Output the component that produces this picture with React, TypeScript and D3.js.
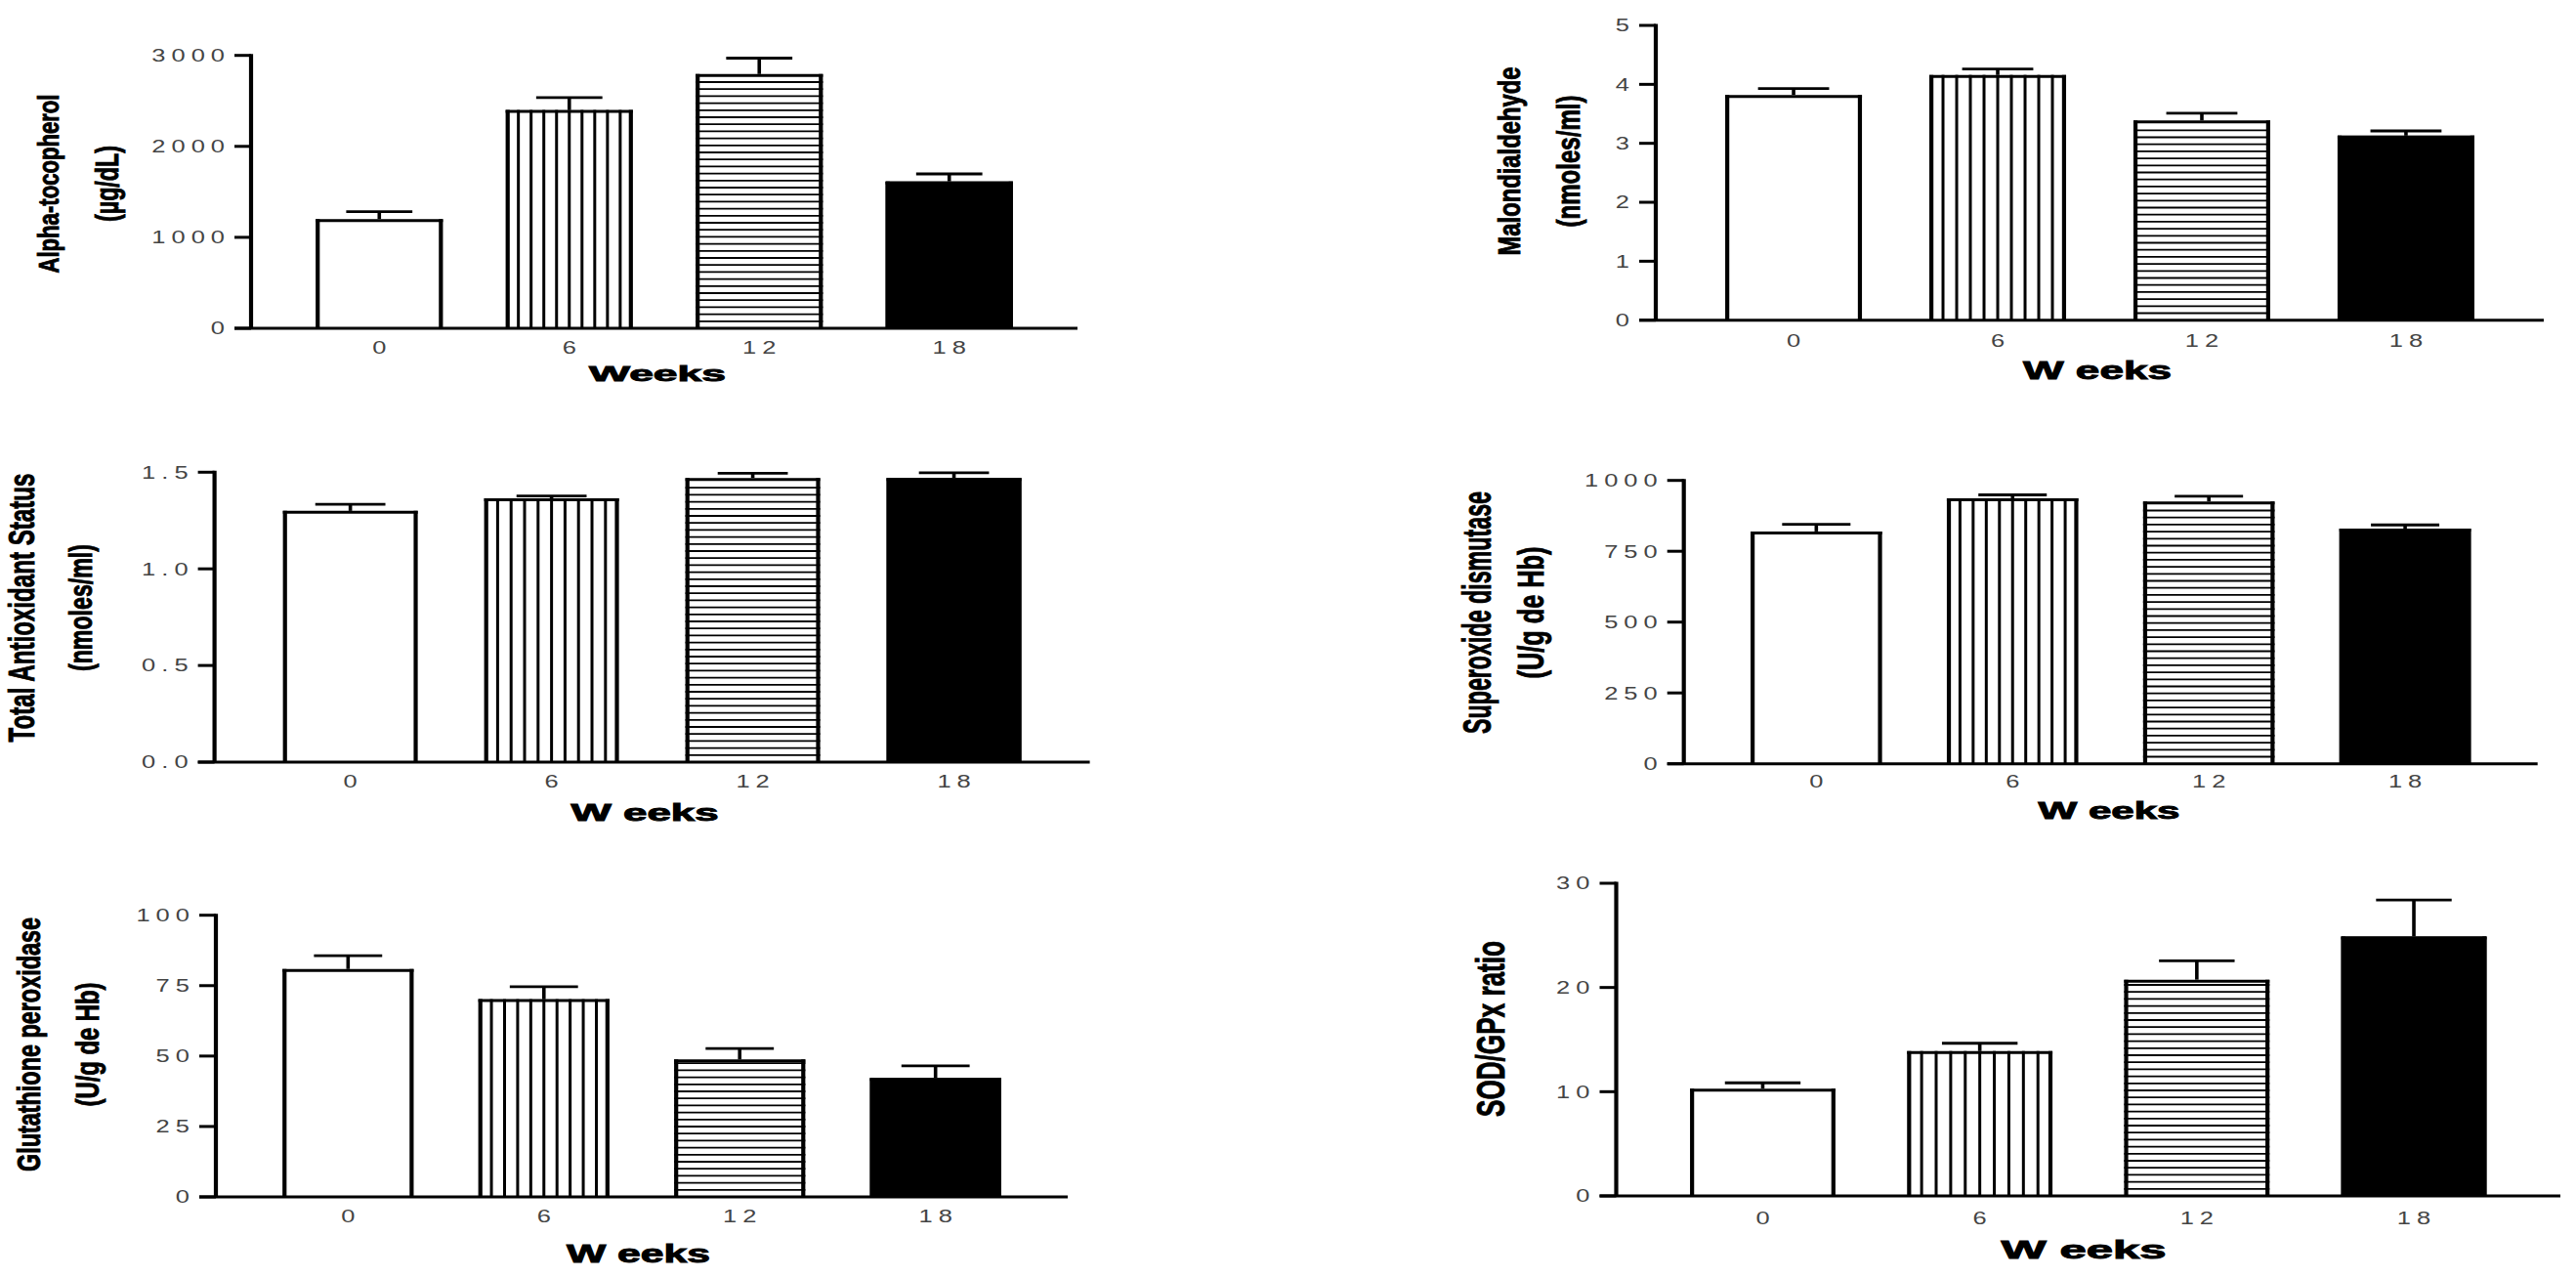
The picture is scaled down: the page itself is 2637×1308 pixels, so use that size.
import * as d3 from "d3";

// six GraphPad-style bar panels, mean + SEM per week
const weeks = ["0", "6", "12", "18"];

const alphaMean = [1200, 2400, 2795, 1615];
const alphaSem = [82, 136, 175, 82];
const alphaTicks = [0, 1000, 2000, 3000];

const mdaMean = [3.82, 4.16, 3.39, 3.13];
const mdaSem = [0.11, 0.1, 0.12, 0.08];
const mdaTicks = [0, 1, 2, 3, 4, 5];

const tasMean = [1.3, 1.365, 1.47, 1.47];
const tasSem = [0.034, 0.012, 0.025, 0.027];
const tasTicks = [0, 0.5, 1.0, 1.5];

const sodMean = [820, 937, 926, 830];
const sodSem = [25, 12, 18, 13];
const sodTicks = [0, 250, 500, 750, 1000];

const gpxMean = [80.9, 70.2, 48.8, 42.2];
const gpxSem = [4.7, 4.4, 3.9, 4.3];
const gpxTicks = [0, 25, 50, 75, 100];

const ratioMean = [10.3, 13.9, 20.75, 24.9];
const ratioSem = [0.55, 0.75, 1.8, 3.5];
const ratioTicks = [0, 10, 20, 30];

const panels = [
  {
    mean: alphaMean, sem: alphaSem, ticks: alphaTicks, fmt: "d",
    yLabel: ["Alpha-tocopherol", "(µg/dL)"], xLabel: "Weeks",
    layout: {
      axisX: 257, xEnd: 1103, yZero: 336, yTop: 56.7, xTickY: 356,
      xLab: { x: 673, y: 382.5, len: 140, fs: 22 },
      yLabY: 188,
      yLab: [{ x: 49, len: 183, fs: 30 }, { x: 109, len: 78, fs: 34 }],
    },
  },
  {
    mean: mdaMean, sem: mdaSem, ticks: mdaTicks, fmt: "d",
    yLabel: ["Malondialdehyde", "(nmoles/ml)"], xLabel: "W eeks",
    layout: {
      axisX: 1695, xEnd: 2604, yZero: 327.7, yTop: 26, xTickY: 348.3,
      xLab: { x: 2147, y: 379, len: 152, fs: 25 },
      yLabY: 165,
      yLab: [{ x: 1545, len: 193, fs: 31 }, { x: 1605, len: 135, fs: 34 }],
    },
  },
  {
    mean: tasMean, sem: tasSem, ticks: tasTicks, fmt: ".1f",
    yLabel: ["Total Antioxidant Status", "(nmoles/ml)"], xLabel: "W eeks",
    layout: {
      axisX: 219.6, xEnd: 1115.6, yZero: 780, yTop: 483.3, xTickY: 800,
      xLab: { x: 660, y: 831.7, len: 151, fs: 23 },
      yLabY: 622,
      yLab: [{ x: 22, len: 275, fs: 37 }, { x: 81.5, len: 130, fs: 34 }],
    },
  },
  {
    mean: sodMean, sem: sodSem, ticks: sodTicks, fmt: "d",
    yLabel: ["Superoxide dismutase", "(U/g de Hb)"], xLabel: "W eeks",
    layout: {
      axisX: 1723.7, xEnd: 2597.7, yZero: 781.7, yTop: 491.7, xTickY: 800,
      xLab: { x: 2159, y: 830, len: 145, fs: 23 },
      yLabY: 627,
      yLab: [{ x: 1512, len: 248, fs: 40 }, { x: 1567, len: 135, fs: 36 }],
    },
  },
  {
    mean: gpxMean, sem: gpxSem, ticks: gpxTicks, fmt: "d",
    yLabel: ["Glutathione peroxidase", "(U/g de Hb)"], xLabel: "W eeks",
    layout: {
      axisX: 221, xEnd: 1093, yZero: 1225, yTop: 936.7, xTickY: 1245,
      xLab: { x: 653.5, y: 1282.5, len: 147, fs: 25 },
      yLabY: 1069,
      yLab: [{ x: 29, len: 260, fs: 33 }, { x: 89, len: 127, fs: 34 }],
    },
  },
  {
    mean: ratioMean, sem: ratioSem, ticks: ratioTicks, fmt: "d",
    yLabel: ["SOD/GPx ratio"], xLabel: "W eeks",
    layout: {
      axisX: 1654.5, xEnd: 2621, yZero: 1224, yTop: 904, xTickY: 1246.7,
      xLab: { x: 2133, y: 1279, len: 169, fs: 25 },
      yLabY: 1053,
      yLab: [{ x: 1526, len: 180, fs: 40 }],
    },
  },
];

// the source figure is stretched sideways, so vertical strokes are thicker
const TICK = 17;
const VW = 4.2; // vertical stroke
const HW = 3; // horizontal stroke
const SX = 1.34; // horizontal stretch of small labels
const tickFont = {
  fontFamily: "'Liberation Sans', Arial, sans-serif",
  fontSize: 19,
  fill: "#444",
  letterSpacing: 4.5,
};
const boldFont = "'Liberation Sans', Arial, sans-serif";

const Panel = ({ p }) => {
  const L = p.layout;
  const x = d3
    .scaleBand()
    .domain(weeks)
    .range([L.axisX, L.xEnd])
    .paddingInner(0.33)
    .paddingOuter(0.34);
  const y = d3
    .scaleLinear()
    .domain([0, p.ticks[p.ticks.length - 1]])
    .range([L.yZero, L.yTop]);
  const bw = x.bandwidth();
  const fmt = d3.format(p.fmt);
  const y0 = y(0);

  return (
    <g>
      {/* bars */}
      {weeks.map((w, i) => {
        const x0 = x(w);
        const yt = y(p.mean[i]);
        const cx = x0 + bw / 2;
        const ye = y(p.mean[i] + p.sem[i]);
        return (
          <g key={w}>
            <rect
              x={x0}
              y={yt}
              width={bw}
              height={y0 - yt}
              fill={i === 3 ? "#000" : "#fff"}
            />
            {i === 1 &&
              d3.range(1, 10).map((k) => (
                <line
                  key={k}
                  x1={x0 + (k * bw) / 10}
                  x2={x0 + (k * bw) / 10}
                  y1={yt}
                  y2={y0}
                  stroke="#000"
                  strokeWidth={3}
                />
              ))}
            {i === 2 &&
              d3.range(y0 - 7.2, yt + 3, -7.2).map((yy, k) => (
                <line
                  key={k}
                  x1={x0}
                  x2={x0 + bw}
                  y1={yy}
                  y2={yy}
                  stroke="#000"
                  strokeWidth={1.8}
                />
              ))}
            {/* outline */}
            <line x1={x0} x2={x0 + bw} y1={yt + HW / 2} y2={yt + HW / 2} stroke="#000" strokeWidth={HW} />
            <line x1={x0 + VW / 2} x2={x0 + VW / 2} y1={yt} y2={y0} stroke="#000" strokeWidth={VW} />
            <line x1={x0 + bw - VW / 2} x2={x0 + bw - VW / 2} y1={yt} y2={y0} stroke="#000" strokeWidth={VW} />
            {/* SEM */}
            <line x1={cx} x2={cx} y1={yt} y2={ye} stroke="#000" strokeWidth={3.6} />
            <line
              x1={cx - bw * 0.26}
              x2={cx + bw * 0.26}
              y1={ye}
              y2={ye}
              stroke="#000"
              strokeWidth={2.8}
            />
          </g>
        );
      })}

      {/* axes */}
      <line
        x1={L.axisX}
        x2={L.axisX}
        y1={y(p.ticks[p.ticks.length - 1]) - HW / 2}
        y2={y0}
        stroke="#000"
        strokeWidth={VW}
      />
      <line x1={L.axisX - TICK} x2={L.xEnd} y1={y0} y2={y0} stroke="#000" strokeWidth={HW} />
      {p.ticks.map((t) => (
        <g key={t}>
          <line
            x1={L.axisX - TICK}
            x2={L.axisX}
            y1={y(t)}
            y2={y(t)}
            stroke="#000"
            strokeWidth={HW}
          />
          <text
            transform={`translate(${L.axisX - TICK - 4},${y(t)}) scale(${SX},1)`}
            textAnchor="end"
            dominantBaseline="central"
            style={tickFont}
          >
            {fmt(t)}
          </text>
        </g>
      ))}
      {weeks.map((w) => (
        <text
          key={w}
          transform={`translate(${x(w) + bw / 2 + 3},${L.xTickY}) scale(${SX},1)`}
          textAnchor="middle"
          dominantBaseline="central"
          style={tickFont}
        >
          {w}
        </text>
      ))}

      {/* axis titles */}
      <text
        x={L.xLab.x}
        y={L.xLab.y}
        textAnchor="middle"
        dominantBaseline="central"
        fontFamily={boldFont}
        fontWeight="bold"
        fontSize={L.xLab.fs}
        stroke="#000"
        strokeWidth={0.9}
        textLength={L.xLab.len}
        lengthAdjust="spacingAndGlyphs"
      >
        {p.xLabel}
      </text>
      {p.yLabel.map((s, k) => (
        <text
          key={k}
          transform={`translate(${L.yLab[k].x},${L.yLabY}) rotate(-90)`}
          textAnchor="middle"
          dominantBaseline="central"
          fontFamily={boldFont}
          fontWeight="bold"
          fontSize={L.yLab[k].fs}
          stroke="#000"
          strokeWidth={0.9}
          textLength={L.yLab[k].len}
          lengthAdjust="spacingAndGlyphs"
        >
          {s}
        </text>
      ))}
    </g>
  );
};

export default function App() {
  return (
    <svg
      width={2637}
      height={1308}
      style={{ position: "absolute", left: 0, top: 0, background: "#fff" }}
    >
      <rect width={2637} height={1308} fill="#fff" />
      {panels.map((p, i) => (
        <Panel key={i} p={p} />
      ))}
    </svg>
  );
}
